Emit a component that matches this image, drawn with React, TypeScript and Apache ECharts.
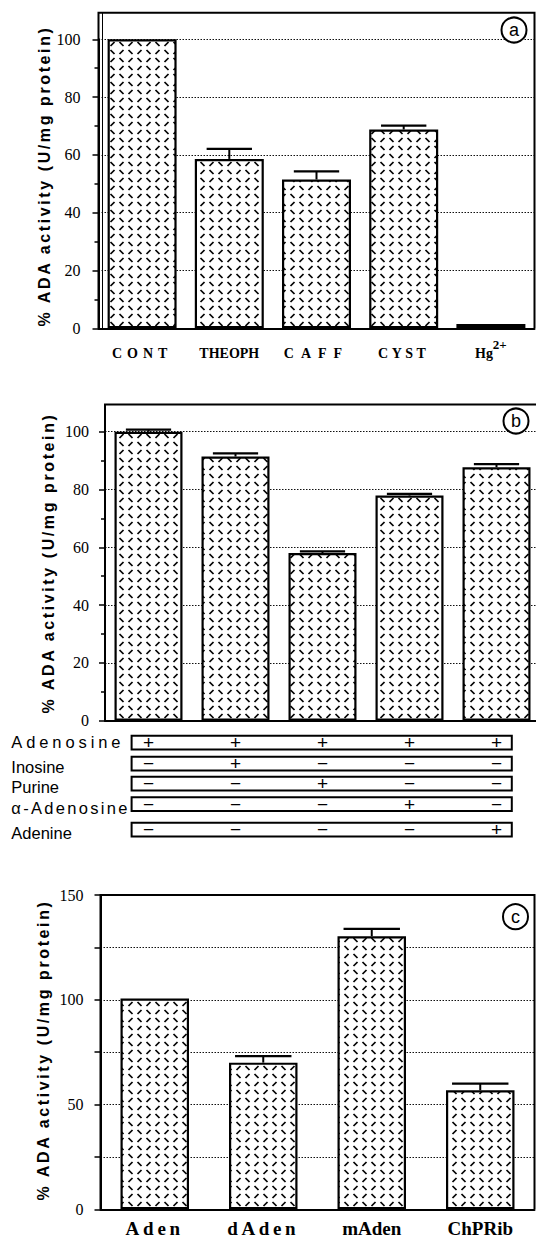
import React, { useEffect, useRef } from 'react';
import * as echarts from 'echarts';

// ---------------- data ----------------
const catsA = ['CONT', 'THEOPH', 'CAFF', 'CYST', 'Hg2+'];
const valsA = [100, 58.6, 51.5, 68.8, 1.5];
const errA: (number | null)[] = [null, 62.1, 54.3, 70.1, null];
const ticksA = [0, 20, 40, 60, 80, 100];

const catsB = ['Adenosine', 'Adenosine + Inosine', 'Adenosine + Purine', 'Adenosine + α-Adenosine', 'Adenosine + Adenine'];
const valsB = [100, 91.4, 58.0, 77.9, 87.7];
const errB: (number | null)[] = [100.7, 92.5, 58.6, 78.5, 88.8];
const ticksB = [0, 20, 40, 60, 80, 100];

const tableRows = ['Adenosine', 'Inosine', 'Purine', 'α-Adenosine', 'Adenine'];
const tableSigns = [
  ['+', '+', '+', '+', '+'],
  ['−', '+', '−', '−', '−'],
  ['−', '−', '+', '−', '−'],
  ['−', '−', '−', '+', '−'],
  ['−', '−', '−', '−', '+'],
];

const catsC = ['Aden', 'dAden', 'mAden', 'ChPRib'];
const valsC = [100.6, 70.0, 130.3, 56.8];
const errC: (number | null)[] = [null, 73.1, 133.8, 60.0];
const ticksC = [0, 50, 100, 150];

const yTitle = '% ADA activity (U/mg protein)';
const panelLetters = ['a', 'b', 'c'];

// ---------------- styles ----------------
const SERIF = '"Liberation Serif", "Times New Roman", serif';
const SANS = '"Liberation Sans", Arial, Helvetica, sans-serif';

const tileSvg =
  "<svg xmlns='http://www.w3.org/2000/svg' width='18' height='16'>" +
  "<rect width='18' height='16' fill='white'/>" +
  "<g stroke='black' stroke-width='1.7' stroke-linecap='butt'>" +
  "<line x1='2.5' y1='2' x2='6.5' y2='6'/>" +
  "<line x1='11.5' y1='6' x2='15.5' y2='2'/>" +
  "<line x1='2.5' y1='14' x2='6.5' y2='10'/>" +
  "<line x1='11.5' y1='10' x2='15.5' y2='14'/>" +
  '</g></svg>';
const pattern: any = {
  image: 'data:image/svg+xml;charset=utf-8,' + encodeURIComponent(tileSvg),
  repeat: 'repeat',
  imageWidth: 18,
  imageHeight: 16,
};

const letterSpacing: Record<string, number> = {
  CONT: 5,
  CAFF: 7,
  CYST: 3.5,
  Aden: 3.8,
  dAden: 3.6,
  Adenosine: 3.9,
  'α-Adenosine': 2.3,
  [yTitle]: 2.6,
};

const black = '#000';

function yAxisCfg(grid: number, max: number, interval: number, labels: number[], margin: number, minor: boolean) {
  return {
    gridIndex: grid,
    type: 'value',
    min: 0,
    max,
    interval,
    axisLine: { show: true, lineStyle: { color: black, width: 2 } },
    axisTick: { show: true, length: 6, lineStyle: { color: black, width: 1.5 } },
    minorTick: { show: minor, splitNumber: 2, length: 4, lineStyle: { color: black, width: 1.5 } },
    axisLabel: {
      fontFamily: SERIF,
      fontSize: 16,
      color: black,
      margin,
      formatter: (v: number) => (labels.indexOf(v) >= 0 ? String(v) : ''),
    },
    splitLine: { show: true, lineStyle: { type: [1.5, 1.5], color: '#111', width: 1 } },
  };
}

function errSeries(x: number, vals: number[], errs: (number | null)[]) {
  const data: number[][] = [];
  errs.forEach((e, i) => {
    if (e != null) data.push([i, vals[i], e]);
  });
  return {
    type: 'custom',
    xAxisIndex: x,
    yAxisIndex: x,
    z: 5,
    silent: true,
    encode: { x: 0, y: [1, 2] },
    data,
    renderItem: (_p: any, api: any) => {
      const i = api.value(0);
      const p0 = api.coord([i, api.value(1)]);
      const p1 = api.coord([i, api.value(2)]);
      const band = api.size([1, 0])[0];
      const half = band * 0.26;
      return {
        type: 'group',
        children: [
          { type: 'line', shape: { x1: p0[0], y1: p0[1], x2: p1[0], y2: p1[1] }, style: { stroke: black, lineWidth: 2 } },
          { type: 'line', shape: { x1: p1[0] - half, y1: p1[1], x2: p1[0] + half, y2: p1[1] }, style: { stroke: black, lineWidth: 2.2 } },
        ],
      };
    },
  };
}

function barSeries(x: number, vals: number[], width: number) {
  return {
    type: 'bar',
    xAxisIndex: x,
    yAxisIndex: x,
    data: vals,
    barWidth: width,
    silent: true,
    z: 3,
    itemStyle: { color: pattern, borderColor: black, borderWidth: 2.2 },
  };
}

const xLine = { lineStyle: { color: black, width: 2 } };

const baseOption: any = {
  animation: false,
  backgroundColor: '#fff',
  tooltip: { show: false },
  grid: [
    { left: 98.5, top: 39.3, width: 436, height: 289, outerBoundsMode: 'none' },
    { left: 105, top: 431.7, width: 435, height: 289, outerBoundsMode: 'none' },
    { left: 100.5, top: 895, width: 434, height: 314.3, outerBoundsMode: 'none' },
  ],
  xAxis: [
    {
      gridIndex: 0,
      type: 'category',
      data: catsA,
      axisLine: xLine,
      axisTick: { alignWithLabel: true, length: 7, lineStyle: { color: black, width: 2 } },
      axisLabel: {
        interval: 0,
        margin: 10,
        formatter: (v: string) => (v === 'Hg2+' ? '{m|Hg}{s|2+}' : '{m|' + v + '}'),
        rich: {
          m: { fontFamily: SERIF, fontWeight: 'bold', fontSize: 14, color: black, lineHeight: 22, verticalAlign: 'bottom' },
          s: { fontFamily: SERIF, fontWeight: 'bold', fontSize: 13, color: black, lineHeight: 11, verticalAlign: 'top' },
        },
      },
    },
    {
      gridIndex: 1,
      type: 'category',
      data: catsB,
      axisLine: xLine,
      axisTick: { alignWithLabel: true, length: 7, lineStyle: { color: black, width: 2 } },
      axisLabel: { show: false },
    },
    {
      gridIndex: 2,
      type: 'category',
      data: catsC,
      axisLine: xLine,
      axisTick: { alignWithLabel: true, length: 9, lineStyle: { color: black, width: 2 } },
      axisLabel: { interval: 0, margin: 10, fontFamily: SERIF, fontWeight: 'bold', fontSize: 19, color: black },
    },
  ],
  yAxis: [
    yAxisCfg(0, 100, 20, ticksA, 18, true),
    yAxisCfg(1, 100, 20, ticksB, 16, true),
    yAxisCfg(2, 150, 25, ticksC, 17, false),
  ],
  series: [
    barSeries(0, valsA, 69),
    errSeries(0, valsA, errA),
    barSeries(1, valsB, 68),
    errSeries(1, valsB, errB),
    barSeries(2, valsC, 68.5),
    errSeries(2, valsC, errC),
  ],
};

function buildGraphic(colsB: number[]) {
  const g: any[] = [];
  const stroke = { stroke: black, lineWidth: 2, fill: 'none' };
  // frames
  g.push({ type: 'polyline', z: 100, shape: { points: [[98.5, 328.3], [98.5, 12.7], [534.5, 12.7], [534.5, 328.3]] }, style: stroke });
  g.push({ type: 'line', z: 100, shape: { x1: 102.5, y1: 13, x2: 102.5, y2: 328 }, style: { stroke: black, lineWidth: 1 } });
  g.push({ type: 'polyline', z: 100, shape: { points: [[105, 720.7], [105, 404.5], [540, 404.5], [540, 720.7]] }, style: stroke });
  g.push({ type: 'polyline', z: 100, shape: { points: [[100.5, 1209.3], [100.5, 895], [534.5, 895], [534.5, 1209.3]] }, style: stroke });

  // y titles
  const titlePos = [
    [44.5, 176],
    [48, 563],
    [43, 1050],
  ];
  titlePos.forEach(([x, y]) => {
    g.push({
      type: 'text',
      z: 100,
      x,
      y,
      rotation: Math.PI / 2,
      style: { text: yTitle, fontFamily: SANS, fontWeight: 'bold', fontSize: 16, fill: black, align: 'center', verticalAlign: 'middle' },
    });
  });

  // panel letters
  const circ = [
    [514, 30],
    [516, 421],
    [515.5, 916.7],
  ];
  circ.forEach(([cx, cy], i) => {
    g.push({ type: 'circle', z: 100, shape: { cx, cy, r: 12.5 }, style: { fill: '#fff', stroke: black, lineWidth: 2 } });
    g.push({
      type: 'text',
      z: 101,
      x: cx,
      y: cy,
      style: { text: panelLetters[i], fontFamily: SANS, fontSize: 18, fill: black, align: 'center', verticalAlign: 'middle' },
    });
  });

  // table
  const boxTop = [735.8, 756.7, 776.7, 797.3, 822.7];
  const boxH = 13.8;
  const labelY = [742.3, 766.7, 787.3, 808.3, 833.3];
  tableRows.forEach((name, r) => {
    g.push({
      type: 'rect',
      z: 100,
      shape: { x: 131.6, y: boxTop[r], width: 380.2, height: boxH },
      style: { fill: '#fff', stroke: black, lineWidth: 2 },
    });
    g.push({
      type: 'text',
      z: 100,
      x: 11.3,
      y: labelY[r],
      style: { text: name, fontFamily: SANS, fontSize: 16.5, fill: black, align: 'left', verticalAlign: 'middle' },
    });
    tableSigns[r].forEach((s, c) => {
      g.push({
        type: 'text',
        z: 101,
        x: colsB[c],
        y: boxTop[r] + boxH / 2,
        style: { text: s, fontFamily: SANS, fontSize: 19, fill: black, align: 'center', verticalAlign: 'middle' },
      });
    });
  });
  return g;
}

function applySpacing(el: HTMLElement) {
  el.querySelectorAll('text').forEach((t) => {
    const key = (t.textContent || '').trim();
    const s = letterSpacing[key];
    if (s != null) t.setAttribute('letter-spacing', String(s));
  });
}

export default function App() {
  const ref = useRef<HTMLDivElement>(null);
  useEffect(() => {
    const el = ref.current as HTMLDivElement;
    const chart = echarts.init(el, undefined, { renderer: 'svg' });
    chart.setOption(baseOption);
    const colsB = catsB.map((_, i) => chart.convertToPixel({ xAxisIndex: 1 } as any, i) as unknown as number);
    chart.setOption({ graphic: buildGraphic(colsB) });
    applySpacing(el);
    const onFinished = () => applySpacing(el);
    chart.on('finished', onFinished);
    const t = window.setTimeout(() => applySpacing(el), 60);
    return () => {
      window.clearTimeout(t);
      chart.dispose();
    };
  }, []);
  return (
    <div
      ref={ref}
      style={{ position: 'absolute', left: 0, top: 0, width: 536, height: 1239, background: '#fff' }}
    />
  );
}
